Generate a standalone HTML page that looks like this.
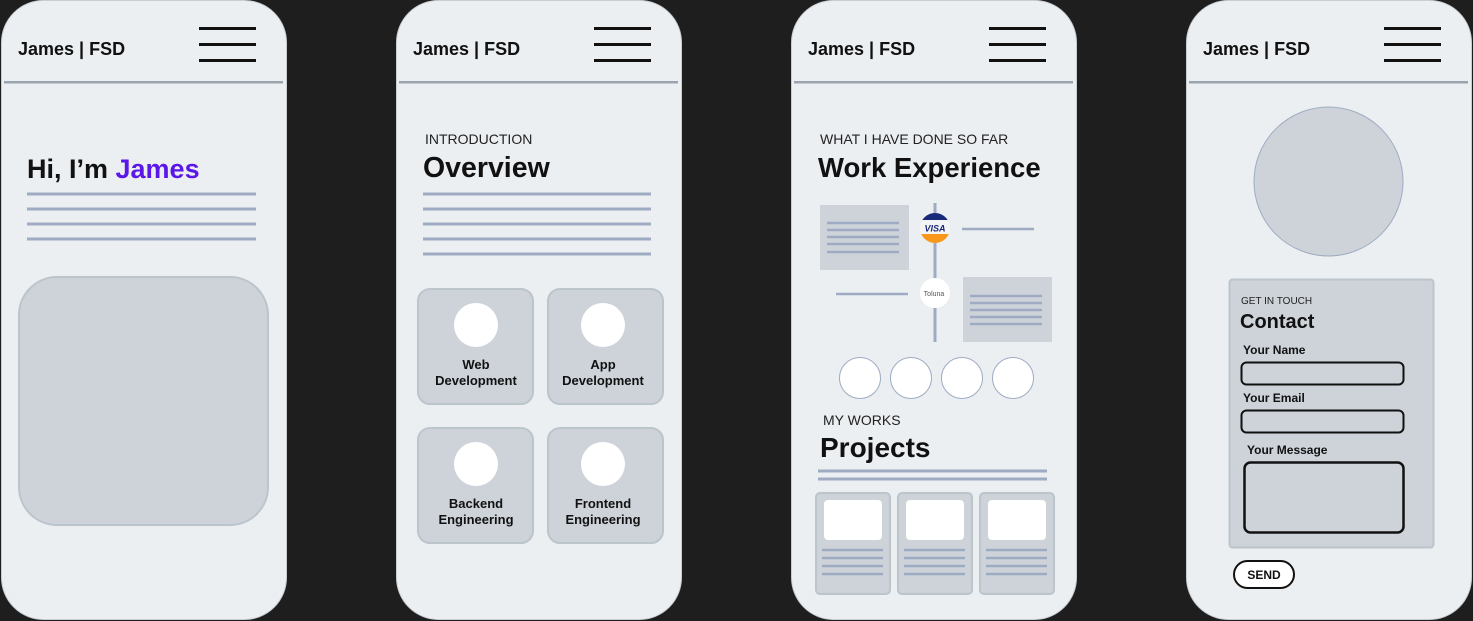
<!DOCTYPE html>
<html><head><meta charset="utf-8"><style>
html,body{margin:0;padding:0;background:#1e1e1e;}
svg{display:block;font-family:"Liberation Sans",Arial,sans-serif;}
.h{font-weight:bold;fill:#111;}
.l{stroke:#9eabc3;stroke-width:3;}
.card{fill:#cdd3d9;stroke:#bcc4cc;stroke-width:2;}
</style></head><body>
<svg width="1473" height="621" viewBox="0 0 1473 621" xmlns="http://www.w3.org/2000/svg">
<rect width="1473" height="621" fill="#1e1e1e"/>
<defs>
<g id="phone">
<rect x="1.5" y="0.5" width="285" height="619" rx="42" fill="#eceff2" stroke="#c8cdd2" stroke-width="1"/>
<text x="18" y="55" font-size="18" class="h">James | FSD</text>
<rect x="199" y="27" width="57" height="3" fill="#111"/>
<rect x="199" y="43" width="57" height="3" fill="#111"/>
<rect x="199" y="59" width="57" height="3" fill="#111"/>
<rect x="4" y="81" width="279" height="2.5" fill="#9ba5b0"/>
</g>
</defs>

<!-- Phone 1 -->
<use href="#phone" x="0"/>
<text x="27" y="178" font-size="27" class="h">Hi, I’m <tspan fill="#5b16e8">James</tspan></text>
<line class="l" x1="27" y1="194" x2="256" y2="194"/>
<line class="l" x1="27" y1="209" x2="256" y2="209"/>
<line class="l" x1="27" y1="224" x2="256" y2="224"/>
<line class="l" x1="27" y1="239" x2="256" y2="239"/>
<rect x="19" y="277" width="249" height="248" rx="38" class="card"/>

<!-- Phone 2 -->
<use href="#phone" x="395"/>
<text x="425" y="144" font-size="14" fill="#222">INTRODUCTION</text>
<text x="423" y="177" font-size="28.5" class="h">Overview</text>
<line class="l" x1="423" y1="194" x2="651" y2="194"/>
<line class="l" x1="423" y1="209" x2="651" y2="209"/>
<line class="l" x1="423" y1="224" x2="651" y2="224"/>
<line class="l" x1="423" y1="239" x2="651" y2="239"/>
<line class="l" x1="423" y1="254" x2="651" y2="254"/>
<g font-size="13" font-weight="bold" fill="#111" text-anchor="middle">
<rect x="418" y="289" width="115" height="115" rx="12" class="card"/>
<circle cx="476" cy="325" r="22" fill="#fff"/>
<text x="476" y="369">Web</text><text x="476" y="385">Development</text>
<rect x="548" y="289" width="115" height="115" rx="12" class="card"/>
<circle cx="603" cy="325" r="22" fill="#fff"/>
<text x="603" y="369">App</text><text x="603" y="385">Development</text>
<rect x="418" y="428" width="115" height="115" rx="12" class="card"/>
<circle cx="476" cy="464" r="22" fill="#fff"/>
<text x="476" y="508">Backend</text><text x="476" y="524">Engineering</text>
<rect x="548" y="428" width="115" height="115" rx="12" class="card"/>
<circle cx="603" cy="464" r="22" fill="#fff"/>
<text x="603" y="508">Frontend</text><text x="603" y="524">Engineering</text>
</g>

<!-- Phone 3 -->
<use href="#phone" x="790"/>
<text x="820" y="144" font-size="14" fill="#222">WHAT I HAVE DONE SO FAR</text>
<text x="818" y="177" font-size="27.5" class="h">Work Experience</text>
<rect x="933.5" y="203" width="3" height="139" fill="#9eabc3"/>
<rect x="820" y="205" width="89" height="65" fill="#cdd3d9"/>
<g class="l" style="stroke-width:2.5">
<line x1="827" y1="223" x2="899" y2="223"/><line x1="827" y1="230" x2="899" y2="230"/>
<line x1="827" y1="237" x2="899" y2="237"/><line x1="827" y1="244" x2="899" y2="244"/>
<line x1="827" y1="252" x2="899" y2="252"/>
<line x1="962" y1="229" x2="1034" y2="229"/>
<line x1="836" y1="294" x2="908" y2="294"/>
</g>
<rect x="963" y="277" width="89" height="65" fill="#cdd3d9"/>
<g class="l" style="stroke-width:2.5">
<line x1="970" y1="296" x2="1042" y2="296"/><line x1="970" y1="303" x2="1042" y2="303"/>
<line x1="970" y1="310" x2="1042" y2="310"/><line x1="970" y1="317" x2="1042" y2="317"/>
<line x1="970" y1="324" x2="1042" y2="324"/>
</g>
<clipPath id="vc"><circle cx="935" cy="228" r="15"/></clipPath>
<g clip-path="url(#vc)">
<rect x="918" y="212" width="34" height="34" fill="#f4f4f4"/>
<rect x="918" y="212" width="34" height="8" fill="#1a2a7a"/>
<rect x="918" y="234" width="34" height="12" fill="#f7981d"/>
</g>
<text x="935" y="231.5" font-size="9" font-weight="bold" font-style="italic" fill="#1a2a7a" text-anchor="middle">VISA</text>
<circle cx="935" cy="293" r="15" fill="#fff"/>
<text x="934" y="296" font-size="7" fill="#555" text-anchor="middle">Toluna</text>
<g fill="#fff" stroke="#9eabc3" stroke-width="1">
<circle cx="860" cy="378" r="20.5"/><circle cx="911" cy="378" r="20.5"/>
<circle cx="962" cy="378" r="20.5"/><circle cx="1013" cy="378" r="20.5"/>
</g>
<text x="823" y="425" font-size="14" fill="#222">MY WORKS</text>
<text x="820" y="457" font-size="28" class="h">Projects</text>
<line class="l" x1="818" y1="471" x2="1047" y2="471"/>
<line class="l" x1="818" y1="479" x2="1047" y2="479"/>
<g>
<rect x="816" y="493" width="74" height="101" rx="4" class="card"/>
<rect x="824" y="500" width="58" height="40" rx="4" fill="#fff"/>
<rect x="898" y="493" width="74" height="101" rx="4" class="card"/>
<rect x="906" y="500" width="58" height="40" rx="4" fill="#fff"/>
<rect x="980" y="493" width="74" height="101" rx="4" class="card"/>
<rect x="988" y="500" width="58" height="40" rx="4" fill="#fff"/>
</g>
<g class="l" style="stroke-width:2.5">
<line x1="822" y1="550" x2="883" y2="550"/><line x1="822" y1="558" x2="883" y2="558"/>
<line x1="822" y1="566" x2="883" y2="566"/><line x1="822" y1="574" x2="883" y2="574"/>
<line x1="904" y1="550" x2="965" y2="550"/><line x1="904" y1="558" x2="965" y2="558"/>
<line x1="904" y1="566" x2="965" y2="566"/><line x1="904" y1="574" x2="965" y2="574"/>
<line x1="986" y1="550" x2="1047" y2="550"/><line x1="986" y1="558" x2="1047" y2="558"/>
<line x1="986" y1="566" x2="1047" y2="566"/><line x1="986" y1="574" x2="1047" y2="574"/>
</g>

<!-- Phone 4 -->
<use href="#phone" x="1185"/>
<circle cx="1328.5" cy="181.5" r="74.5" fill="#cdd3d9" stroke="#9eabc3" stroke-width="1"/>
<rect x="1229.5" y="279.5" width="204" height="268" rx="3" class="card"/>
<text x="1241" y="304" font-size="10" fill="#222">GET IN TOUCH</text>
<text x="1240" y="328" font-size="20" class="h">Contact</text>
<text x="1243" y="354" font-size="12" class="h">Your Name</text>
<rect x="1241.5" y="362.5" width="162" height="22" rx="5" fill="none" stroke="#111" stroke-width="2"/>
<text x="1243" y="402" font-size="12" class="h">Your Email</text>
<rect x="1241.5" y="410.5" width="162" height="22" rx="5" fill="none" stroke="#111" stroke-width="2"/>
<text x="1247" y="454" font-size="12" class="h">Your Message</text>
<rect x="1244.5" y="462.5" width="159" height="70" rx="6" fill="none" stroke="#111" stroke-width="2.5"/>
<rect x="1234" y="561" width="60" height="27" rx="13.5" fill="#fff" stroke="#111" stroke-width="2"/>
<text x="1264" y="579" font-size="12" class="h" text-anchor="middle">SEND</text>
</svg>
</body></html>
